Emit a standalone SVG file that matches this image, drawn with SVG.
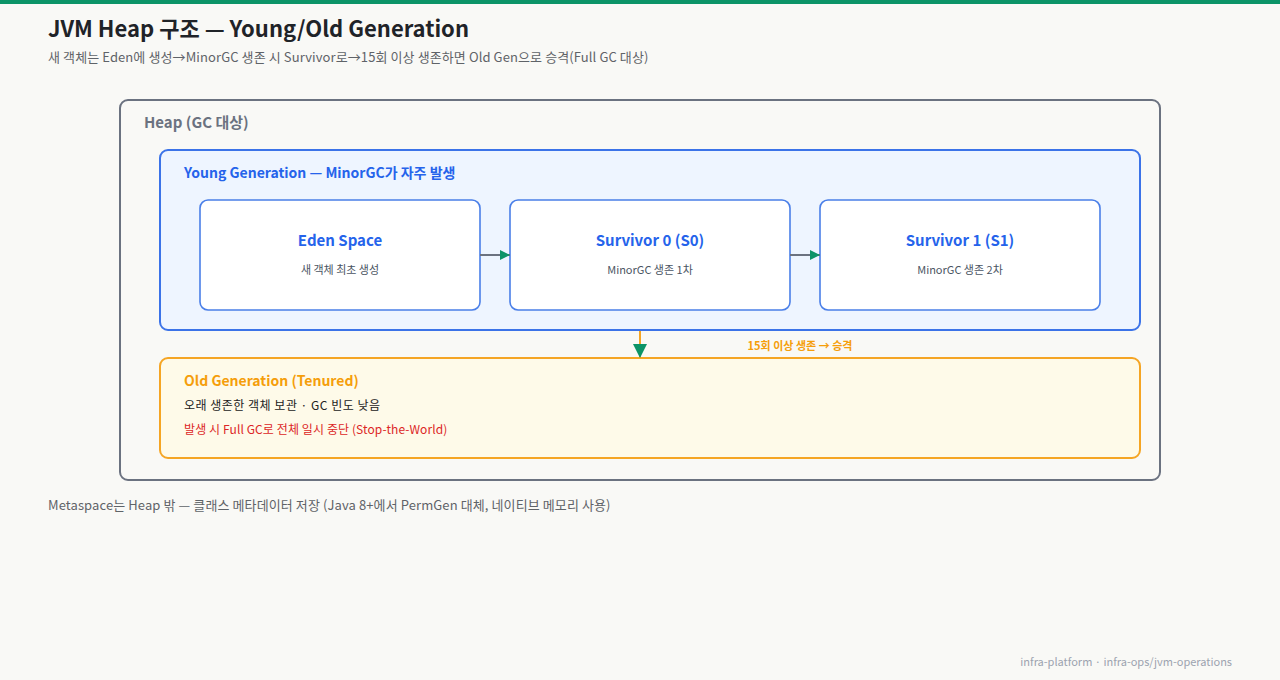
<svg xmlns="http://www.w3.org/2000/svg" width="1280" height="680" viewBox="0 0 1280 680">
<style>
text{font-family:"Noto Sans CJK KR","Noto Sans",sans-serif}
.title{font-size:22px;font-weight:700;fill:#1f2328}
.sub{font-size:13px;fill:#5f6368;letter-spacing:0.1px}
.grp{font-weight:700}
.node{fill:#ffffff;stroke:#4a7fe8;stroke-width:1.6}
.nt{font-size:15px;font-weight:700;fill:#2563eb;text-anchor:middle}
.ns{font-size:11px;fill:#4b5563;text-anchor:middle}
</style>
<defs>
<marker id="ah" viewBox="0 0 10 10" refX="10" refY="5" markerWidth="10" markerHeight="10" markerUnits="userSpaceOnUse" orient="auto">
<path d="M0,0 L10,5 L0,10 z" fill="#0c9467"/>
</marker>
<marker id="ahv" viewBox="0 0 10 10" refX="10" refY="5" markerWidth="14" markerHeight="14" markerUnits="userSpaceOnUse" orient="auto">
<path d="M0,0 L10,5 L0,10 z" fill="#0c9467"/>
</marker>
</defs>
<rect width="1280" height="680" fill="#f9f9f6"/>
<rect width="1280" height="4" fill="#0c9467"/>
<text class="title" x="48" y="37">JVM Heap 구조 — Young/Old Generation</text>
<text class="sub" x="48" y="62">새 객체는 Eden에 생성→MinorGC 생존 시 Survivor로→15회 이상 생존하면 Old Gen으로 승격(Full GC 대상)</text>
<g id="heap">
<rect x="120" y="100" width="1040" height="380" rx="8" fill="#f9f9f6" stroke="#6b7280" stroke-width="2"/>
<text class="grp" x="144" y="128" font-size="15" fill="#6b7280">Heap (GC 대상)</text>
</g>
<g id="young">
<rect x="160" y="150" width="980" height="180" rx="8" fill="#eef5ff" stroke="#3b73e8" stroke-width="2"/>
<text class="grp" x="184" y="178" font-size="14" fill="#2563eb">Young Generation — MinorGC가 자주 발생</text>
</g>
<g id="eden">
<rect class="node" x="200" y="200" width="280" height="110" rx="8"/>
<text class="nt" x="340" y="246">Eden Space</text>
<text class="ns" x="340" y="274">새 객체 최초 생성</text>
</g>
<g id="s0">
<rect class="node" x="510" y="200" width="280" height="110" rx="8"/>
<text class="nt" x="650" y="246">Survivor 0 (S0)</text>
<text class="ns" x="650" y="274">MinorGC 생존 1차</text>
</g>
<g id="s1">
<rect class="node" x="820" y="200" width="280" height="110" rx="8"/>
<text class="nt" x="960" y="246">Survivor 1 (S1)</text>
<text class="ns" x="960" y="274">MinorGC 생존 2차</text>
</g>
<g id="old">
<rect x="160" y="358" width="980" height="100" rx="8" fill="#fefae9" stroke="#f5a524" stroke-width="2"/>
<text class="grp" x="184" y="386" font-size="14" fill="#f59e0b">Old Generation (Tenured)</text>
<text x="184" y="410" font-size="12" fill="#222222" letter-spacing="0.5">오래 생존한 객체 보관 · GC 빈도 낮음</text>
<text x="184" y="434" font-size="12" fill="#dc2626" letter-spacing="0.1">발생 시 Full GC로 전체 일시 중단 (Stop-the-World)</text>
</g>
<g id="connectors">
<line x1="480" y1="255" x2="510" y2="255" stroke="#6b7280" stroke-width="2" marker-end="url(#ah)"/>
<line x1="790" y1="255" x2="820" y2="255" stroke="#6b7280" stroke-width="2" marker-end="url(#ah)"/>
<line x1="640" y1="331" x2="640" y2="358" stroke="#f5a524" stroke-width="2" marker-end="url(#ahv)"/>
<text x="800" y="350" font-size="11" font-weight="700" fill="#f59e0b" text-anchor="middle">15회 이상 생존 → 승격</text>
</g>
<text class="sub" x="48" y="510">Metaspace는 Heap 밖 — 클래스 메타데이터 저장 (Java 8+에서 PermGen 대체, 네이티브 메모리 사용)</text>
<text x="1232" y="666" font-size="11" fill="#9ca3af" text-anchor="end">infra-platform · infra-ops/jvm-operations</text>
</svg>
